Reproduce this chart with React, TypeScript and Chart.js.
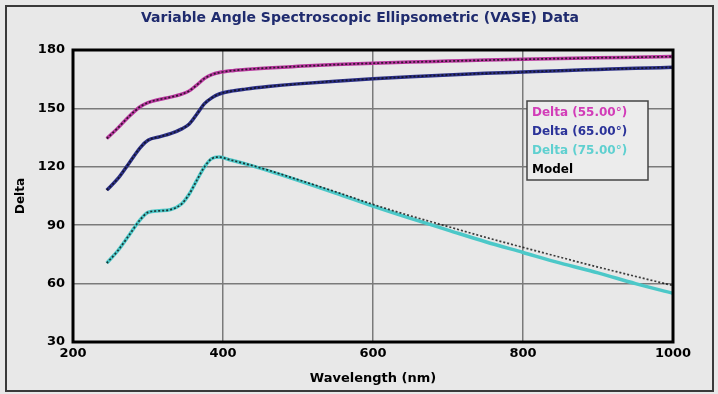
import React, { useEffect, useRef } from "react";
import { Chart, registerables } from "chart.js";

Chart.register(...registerables);

const TITLE = "Variable Angle Spectroscopic Ellipsometric (VASE) Data";
const X_TITLE = "Wavelength (nm)";
const Y_TITLE = "Delta";

const wavelengths = [245, 260, 275, 290, 300, 315, 330, 345, 355, 365, 375, 385, 395, 410, 430, 460, 500, 550, 600, 650, 700, 750, 800, 850, 900, 950, 1000];

const delta55 = [134.5, 140, 146, 151, 153, 154.6, 155.8, 157.3, 159, 162, 165.3, 167.3, 168.4, 169.3, 170, 170.8, 171.6, 172.5, 173.2, 173.8, 174.3, 174.8, 175.2, 175.6, 176, 176.3, 176.6];
const delta65 = [108, 114, 122, 130, 133.6, 135.4, 137, 139.5, 142, 147, 152.3, 155.4, 157.4, 158.8, 159.9, 161.2, 162.6, 164, 165.2, 166.3, 167.2, 168, 168.7, 169.4, 170, 170.6, 171.1];
const delta75 = [70.5, 77, 85, 93, 96.6, 97.4, 98, 101, 106, 113, 119.8, 124.2, 125, 123.5, 121.5, 118, 113, 106.5, 99.8, 93.5, 87.5, 81.5, 76, 70.5, 65.5, 60, 55];

const model55 = [134.5, 140, 146, 151, 153, 154.6, 155.8, 157.3, 159, 162, 165.3, 167.3, 168.4, 169.3, 170, 170.8, 171.6, 172.5, 173.2, 173.8, 174.3, 174.8, 175.2, 175.6, 176, 176.3, 176.6];
const model65 = [108, 114, 122, 130, 133.6, 135.4, 137, 139.5, 142, 147, 152.3, 155.4, 157.4, 158.8, 159.9, 161.2, 162.6, 164, 165.2, 166.3, 167.2, 168, 168.7, 169.4, 170, 170.6, 171.1];
const model75 = [70.5, 77, 85, 93, 96.6, 97.4, 98, 101, 106, 113, 119.8, 124.2, 125, 123.5, 121.6, 118.3, 113.4, 107.2, 100.7, 94.8, 89.3, 83.8, 78.6, 73.5, 68.5, 63.7, 59];

const legendLabels = ["Delta (55.00°)", "Delta (65.00°)", "Delta (75.00°)", "Model"];
const legendColors = ["#d23cb8", "#2b3399", "#5fd0d0", "#000000"];

const X_TICKS = [200, 400, 600, 800, 1000];
const Y_TICKS = [30, 60, 90, 120, 150, 180];

const FONT = "'DejaVu Sans', Verdana, sans-serif";

const toXY = (ys: number[]) => ys.map((y, i) => ({ x: wavelengths[i], y }));

const framePlugin = {
  id: "frame",
  beforeDraw(chart: any) {
    const { ctx, width, height } = chart;
    ctx.save();
    ctx.fillStyle = "#e8e8e8";
    ctx.fillRect(0, 0, width, height);
    ctx.strokeStyle = "#3a3a3a";
    ctx.lineWidth = 2;
    ctx.strokeRect(6, 6, width - 11, height - 9);
    ctx.restore();
  },
  afterDraw(chart: any) {
    const { ctx, chartArea } = chart;
    ctx.save();
    ctx.strokeStyle = "#000";
    ctx.lineWidth = 3;
    ctx.strokeRect(chartArea.left, chartArea.top, chartArea.right - chartArea.left, chartArea.bottom - chartArea.top);
    ctx.fillStyle = "#1f2b6e";
    ctx.font = `bold 14px ${FONT}`;
    ctx.textAlign = "center";
    ctx.textBaseline = "middle";
    ctx.fillText(TITLE, 360, 18);
    const lx = 527, ly = 101, lw = 121, lh = 79;
    ctx.fillStyle = "#ececec";
    ctx.fillRect(lx, ly, lw, lh);
    ctx.strokeStyle = "#444";
    ctx.lineWidth = 1.5;
    ctx.strokeRect(lx, ly, lw, lh);
    ctx.font = `bold 12px ${FONT}`;
    ctx.textAlign = "left";
    legendLabels.forEach((t, i) => {
      ctx.fillStyle = legendColors[i];
      ctx.fillText(t, lx + 5, ly + 12 + i * 19);
    });
    ctx.restore();
  },
};

const lineDs = (label: string, ys: number[], color: string) => ({
  label, data: toXY(ys), borderColor: color, borderWidth: 3.5, pointRadius: 0,
  cubicInterpolationMode: "monotone", order: 2,
});
const modelDs = (label: string, ys: number[]) => ({
  label, data: toXY(ys), borderColor: "rgba(15,15,15,0.8)", borderWidth: 1.7, borderDash: [2, 2],
  pointRadius: 0, cubicInterpolationMode: "monotone", order: 1,
});

export default function App() {
  const ref = useRef<HTMLCanvasElement>(null);
  useEffect(() => {
    if (!ref.current) return;
    const chart = new Chart(ref.current, {
      type: "line",
      data: {
        datasets: [
          lineDs(legendLabels[0], delta55, "#b8379f"),
          lineDs(legendLabels[1], delta65, "#2b2f86"),
          lineDs(legendLabels[2], delta75, "#4cc8c8"),
          modelDs("Model 55", model55),
          modelDs("Model 65", model65),
          modelDs("Model 75", model75),
        ] as any,
      },
      options: {
        animation: false,
        responsive: false,
        maintainAspectRatio: false,
        layout: { padding: { left: 14, right: 45, top: 50, bottom: 8 } },
        plugins: { legend: { display: false }, title: { display: false }, tooltip: { enabled: false } },
        scales: {
          x: {
            type: "linear",
            min: 200,
            max: 1000,
            afterBuildTicks: (s: any) => { s.ticks = X_TICKS.map((v) => ({ value: v })); },
            afterFit: (s: any) => { s.height = 44; },
            grid: { color: "#7a7a7a", lineWidth: 1.5, drawTicks: false },
            border: { display: false },
            ticks: { color: "#000", padding: 4, callback: (v: any) => String(v), font: { size: 13, weight: "bold", family: FONT } },
            title: { display: true, text: X_TITLE, color: "#000", padding: { top: 0, bottom: 0 }, font: { size: 13, weight: "bold", family: FONT } },
          },
          y: {
            type: "linear",
            min: 30,
            max: 180,
            afterBuildTicks: (s: any) => { s.ticks = Y_TICKS.map((v) => ({ value: v })); },
            afterFit: (s: any) => { s.width = 59; },
            grid: { color: "#7a7a7a", lineWidth: 1.5, drawTicks: false },
            border: { display: false },
            ticks: { color: "#000", padding: 8, callback: (v: any) => String(v), font: { size: 13, weight: "bold", family: FONT } },
            title: { display: true, text: Y_TITLE, color: "#000", padding: { top: 0, bottom: 0 }, font: { size: 12, weight: "bold", family: FONT } },
          },
        },
      },
      plugins: [framePlugin],
    });
    return () => chart.destroy();
  }, []);
  return (
    <div style={{ position: "fixed", left: 0, top: 0, width: 718, height: 394 }}>
      <canvas ref={ref} width={718} height={394} style={{ width: 718, height: 394, display: "block" }} />
    </div>
  );
}
